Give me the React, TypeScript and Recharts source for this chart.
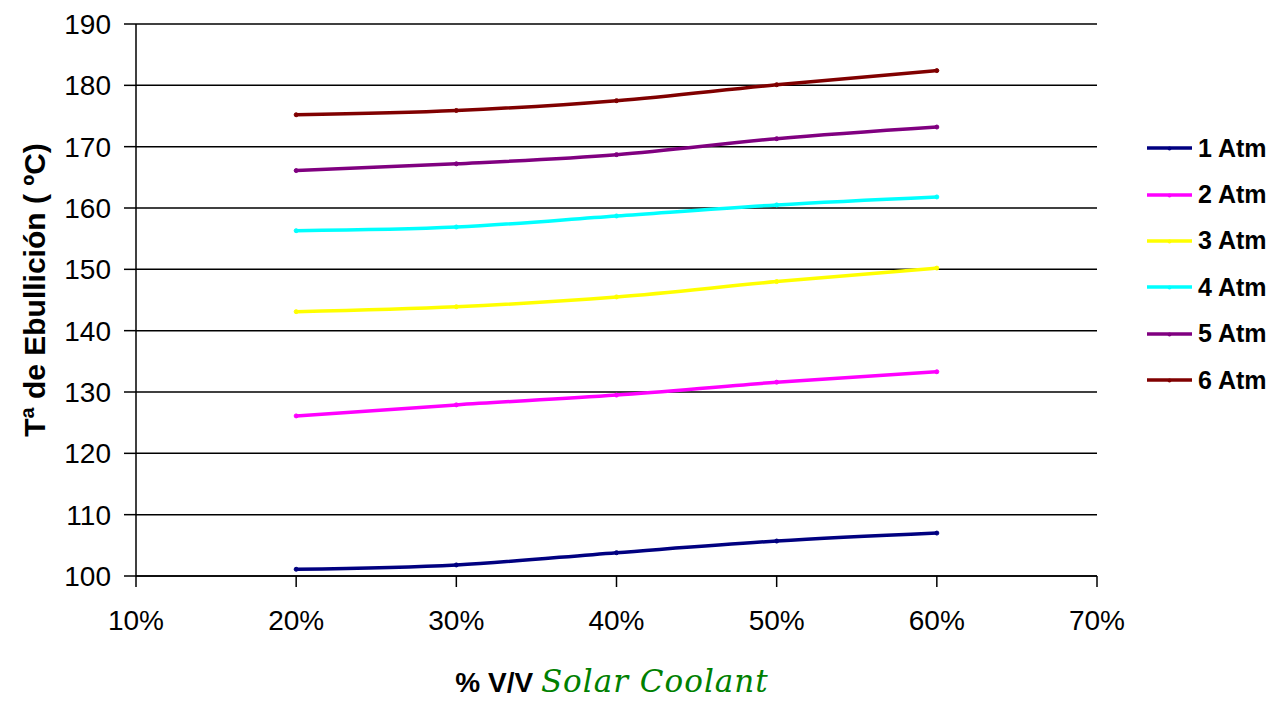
import React from 'react';
import { LineChart, Line, XAxis, YAxis, CartesianGrid } from 'recharts';

const concentrations = [0.2, 0.3, 0.4, 0.5, 0.6];
const atm1 = [101.1, 101.8, 103.8, 105.7, 107.0];
const atm2 = [126.1, 127.9, 129.5, 131.6, 133.3];
const atm3 = [143.1, 143.9, 145.5, 148.0, 150.2];
const atm4 = [156.3, 156.9, 158.7, 160.5, 161.8];
const atm5 = [166.1, 167.2, 168.7, 171.3, 173.2];
const atm6 = [175.2, 175.9, 177.5, 180.1, 182.4];
const xTicks = [0.1, 0.2, 0.3, 0.4, 0.5, 0.6, 0.7];
const yTicks = [100, 110, 120, 130, 140, 150, 160, 170, 180, 190];

const seriesNames = ['1 Atm', '2 Atm', '3 Atm', '4 Atm', '5 Atm', '6 Atm'];
const seriesValues = [atm1, atm2, atm3, atm4, atm5, atm6];
const seriesColors = ['#000080', '#FF00FF', '#FFFF00', '#00FFFF', '#800080', '#800000'];

const data = concentrations.map((c, i) => {
  const row: Record<string, number> = { x: c };
  seriesNames.forEach((n, k) => {
    row[n] = seriesValues[k][i];
  });
  return row;
});

const FONT = '"Liberation Sans", Arial, sans-serif';

const LegendBlock = () => (
  <div
    style={{
      position: 'absolute',
      left: 1139,
      top: 117,
      fontFamily: FONT,
      fontWeight: 'bold',
      fontSize: 25,
      lineHeight: 1,
    }}
  >
    {seriesNames.map((n, k) => (
      <div key={n} style={{ display: 'flex', alignItems: 'center', height: 46.4 }}>
        <svg width={51} height={10} style={{ display: 'block' }}>
          <line x1={0} y1={5} x2={45} y2={5} stroke={seriesColors[k]} strokeWidth={3.5} />
          <circle cx={22.5} cy={5.5} r={2} fill={seriesColors[k]} />
        </svg>
        <span style={{ color: '#000', whiteSpace: 'nowrap' }}>{n}</span>
      </div>
    ))}
  </div>
);

const XLabel = () => (
  <text x={612 - 8} y={692 - 8} textAnchor="middle">
    <tspan fontFamily={FONT} fontWeight="bold" fontSize={28} fill="#000">% V/V </tspan>
    <tspan
      fontFamily='"DejaVu Serif", "Liberation Serif", serif'
      fontStyle="italic"
      fontSize={31}
      letterSpacing={1}
      fill="#008000"
    >
      Solar Coolant
    </tspan>
  </text>
);

const YLabel = () => (
  <text
    x={34 - 8}
    y={290 - 8}
    transform={`rotate(-90, ${34 - 8}, ${290 - 8})`}
    textAnchor="middle"
    dominantBaseline="central"
    fontFamily={FONT}
    fontWeight="bold"
    fontSize={30}
    fill="#000"
  >
    Tª de Ebullición ( ºC)
  </text>
);

export default function App() {
  return (
    <div style={{ position: 'relative', width: 1266, height: 693, background: '#fff' }}>
      <LineChart
        width={1266}
        height={693}
        data={data}
        margin={{ top: 16, right: 177, bottom: 0, left: 68 }}
      >
        <CartesianGrid horizontal={true} vertical={false} stroke="#000" strokeWidth={1.5} />
        <XAxis
          dataKey="x"
          type="number"
          domain={[0.1, 0.7]}
          ticks={xTicks}
          tickFormatter={(v: number) => `${Math.round(v * 100)}%`}
          stroke="#000"
          strokeWidth={1.5}
          tickSize={11}
          tickMargin={23}
          tick={{ fill: '#000', fontFamily: FONT, fontSize: 28 }}
          height={125}
          label={<XLabel />}
          interval={0}
        />
        <YAxis
          type="number"
          domain={[100, 190]}
          ticks={yTicks}
          stroke="#000"
          strokeWidth={1.5}
          tickSize={12}
          tickMargin={13}
          tick={{ fill: '#000', fontFamily: FONT, fontSize: 28 }}
          width={60}
          label={<YLabel />}
          interval={0}
        />
        {seriesNames.map((n, k) => (
          <Line
            key={n}
            type="monotone"
            dataKey={n}
            stroke={seriesColors[k]}
            strokeWidth={3.5}
            dot={{ r: 2, fill: seriesColors[k], stroke: seriesColors[k], strokeWidth: 1 }}
            activeDot={false}
            isAnimationActive={false}
          />
        ))}
      </LineChart>
      <LegendBlock />
    </div>
  );
}
